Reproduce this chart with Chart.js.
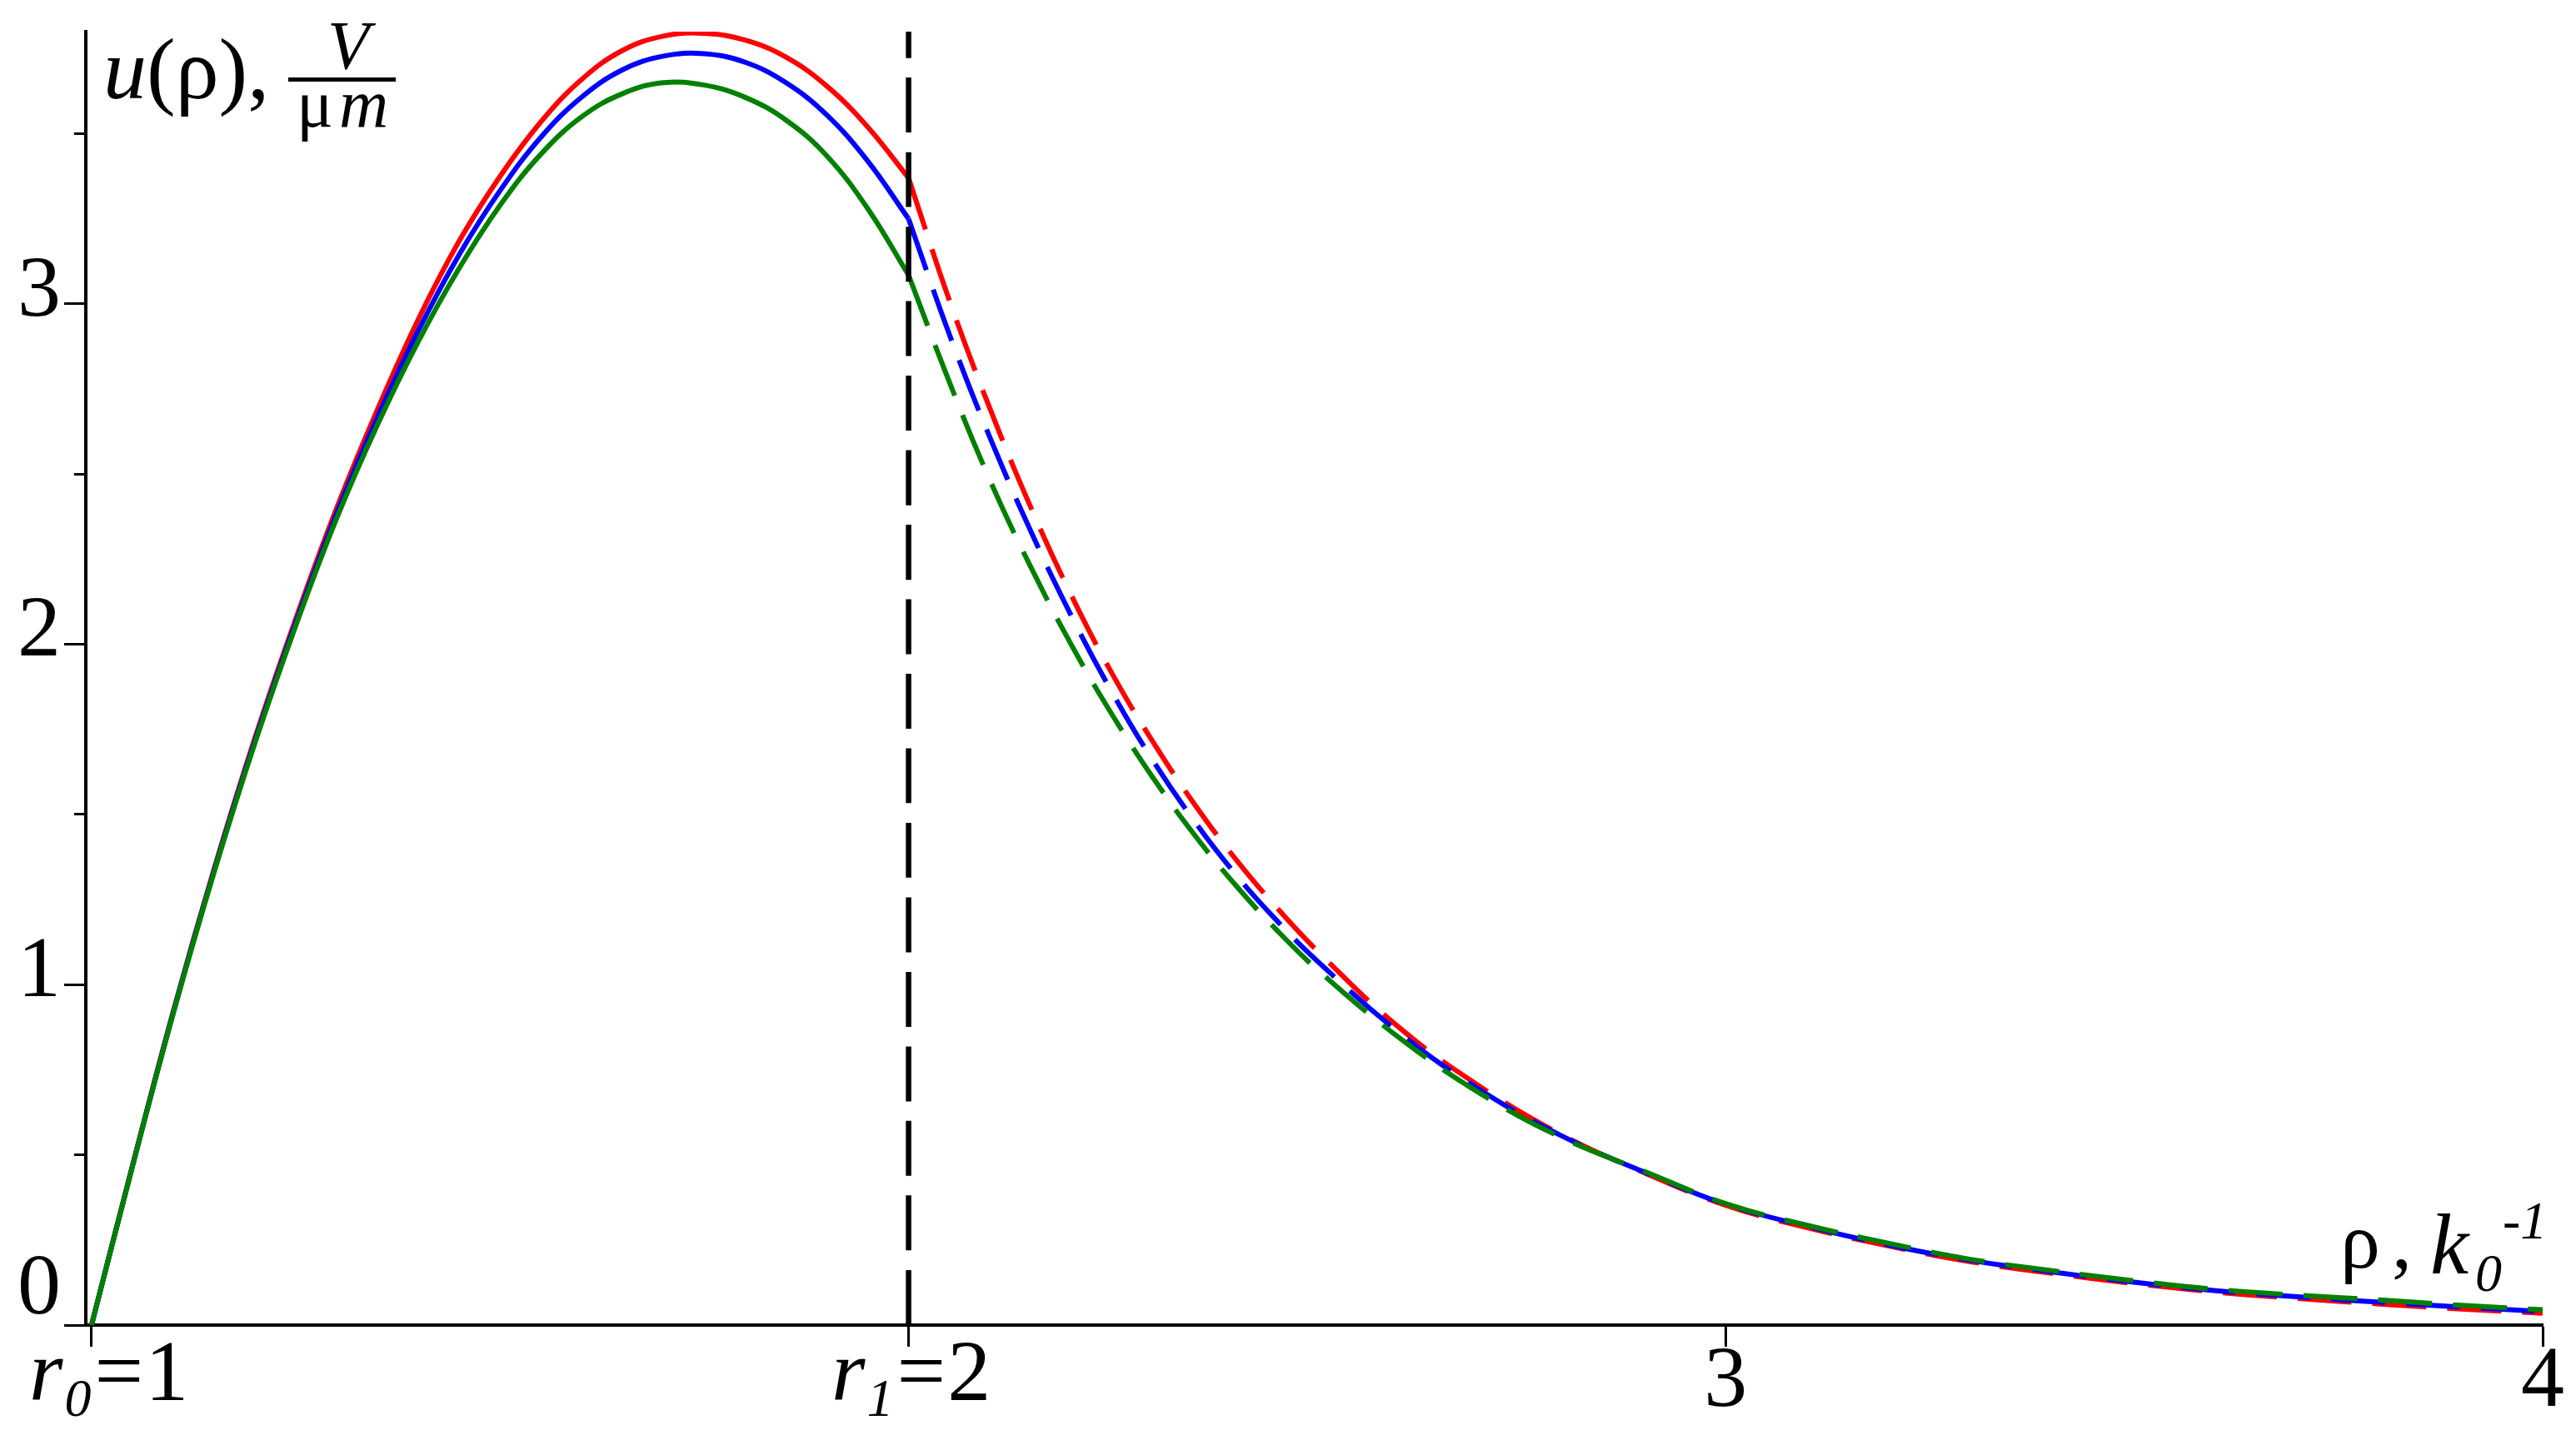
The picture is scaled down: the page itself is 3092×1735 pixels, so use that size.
<!DOCTYPE html>
<html>
<head>
<meta charset="utf-8">
<script src="https://cdn.jsdelivr.net/npm/chart.js@4.4.1/dist/chart.umd.min.js"></script>
<style>
html,body{margin:0;padding:0;background:#fff;overflow:hidden}
canvas{display:block}
</style>
</head>
<body>
<canvas id="c" width="3092" height="1735"></canvas>
<script>
// ---- data ----
const rhoSolid = [1.00,1.05,1.10,1.15,1.20,1.25,1.30,1.35,1.40,1.45,1.50,1.55,1.60,1.65,1.70,1.75,1.80,1.85,1.90,1.95,2.00];
const uRedSolid   = [0,0.468,0.922,1.34,1.725,2.075,2.40,2.69,2.955,3.185,3.375,3.535,3.66,3.745,3.787,3.795,3.775,3.725,3.64,3.52,3.37];
const uBlueSolid  = [0,0.466,0.918,1.335,1.717,2.065,2.385,2.668,2.922,3.145,3.333,3.49,3.608,3.688,3.728,3.735,3.71,3.65,3.555,3.42,3.25];
const uGreenSolid = [0,0.465,0.915,1.33,1.71,2.055,2.37,2.645,2.89,3.105,3.29,3.44,3.55,3.618,3.65,3.643,3.607,3.54,3.435,3.28,3.085];

const rhoDashed = [2.00,2.05,2.10,2.15,2.20,2.25,2.30,2.35,2.40,2.45,2.50,2.60,2.70,2.80,2.90,3.00,3.10,3.20,3.30,3.40,3.50,3.60,3.70,3.80,3.90,4.00];
const uRedDashed   = [3.37,3.01,2.69,2.40,2.14,1.91,1.71,1.53,1.37,1.228,1.10,0.875,0.70,0.558,0.448,0.352,0.286,0.232,0.186,0.152,0.122,0.097,0.078,0.062,0.047,0.035];
const uBlueDashed  = [3.25,2.91,2.605,2.33,2.08,1.855,1.655,1.48,1.325,1.19,1.07,0.86,0.69,0.555,0.45,0.355,0.29,0.235,0.19,0.156,0.126,0.101,0.083,0.067,0.053,0.040];
const uGreenDashed = [3.085,2.77,2.48,2.225,1.995,1.79,1.605,1.44,1.293,1.162,1.045,0.845,0.68,0.55,0.452,0.357,0.293,0.24,0.193,0.16,0.13,0.105,0.088,0.074,0.058,0.045];

const boundaryRho = 2;
const boundaryLineU = [0, 3.8];

const xTickValues = [1, 2, 3, 4];
const xTickLabels = ['', '', '3', '4'];
const rTickLabels = [{rho: 1, sub: '0', val: '1'}, {rho: 2, sub: '1', val: '2'}];
const yMajorTicks = [0, 1, 2, 3];
const yTickLabels = ['0', '1', '2', '3'];
const yMinorTicks = [0.5, 1.5, 2.5, 3.5];

// ---- chart ----
const serif = "'Liberation Serif', 'DejaVu Serif', serif";
const pts = (xs, ys) => xs.map((x, i) => ({x: x, y: ys[i]}));
const line = (data, color, dash, order, width) => ({
  data: data, borderColor: color, borderWidth: width || 6, borderDash: dash,
  pointRadius: 0, fill: false, tension: 0.4, cubicInterpolationMode: 'default',
  borderCapStyle: 'butt', borderJoinStyle: 'round', order: order,
  xAxisID: 'x', yAxisID: 'y'
});

const textPlugin = {
  id: 'mathTexts',
  afterDraw(chart) {
    const ctx = chart.ctx;
    const xs = chart.scales.x;
    ctx.save();
    ctx.fillStyle = '#000';
    ctx.textAlign = 'left';
    ctx.textBaseline = 'alphabetic';
    const it = s => 'italic ' + s + 'px ' + serif;
    const up = s => s + 'px ' + serif;
    const put = (txt, font, x, y) => { ctx.font = font; ctx.fillText(txt, x, y); return x + ctx.measureText(txt).width; };
    const wid = (txt, font) => { ctx.font = font; return ctx.measureText(txt).width; };

    // x tick labels r0=1, r1=2
    rTickLabels.forEach(l => {
      const w = wid('r', it(104)) + 2 + wid(l.sub, it(64)) + 4 + wid('=', up(104)) + wid(l.val, up(104));
      const px = xs.getPixelForValue(l.rho);
      let x = Math.max(35, px - w / 2 + 2);
      x = put('r', it(104), x, 1681) + 2;
      x = put(l.sub, it(64), x, 1700) + 4;
      x = put('=', up(104), x, 1681);
      put(l.val, up(104), x + 2, 1681);
    });

    // y axis title: u(ρ), V / μm
    let x = put('u', it(104), 124, 118);
    put('(ρ),', up(104), x, 118);
    ctx.fillRect(346, 93, 129, 5);
    ctx.textAlign = 'center';
    put('V', it(82), 418, 82);
    ctx.textAlign = 'left';
    put('μ', up(82), 356, 152);
    put('m', it(82), 407, 152);

    // x axis title: ρ, k0^-1
    put('ρ', up(96), 2809, 1522);
    put(',', up(96), 2871, 1522);
    put('k', it(104), 2917, 1529);
    put('0', it(64), 2971, 1550);
    put('-1', it(64), 3004, 1487);
    ctx.restore();
  }
};

function draw() {
  new Chart(document.getElementById('c'), {
    type: 'line',
    data: {
      datasets: [
        line(pts([boundaryRho, boundaryRho], boundaryLineU), '#000000', [66, 23.5], -1, 6.5),
        line(pts(rhoSolid, uGreenSolid), '#008000', [], 0),
        line(pts(rhoDashed, uGreenDashed), '#008000', [65, 25], 0),
        line(pts(rhoSolid, uBlueSolid), '#0000ff', [], 1),
        line(pts(rhoDashed, uBlueDashed), '#0000ff', [65, 25], 1),
        line(pts(rhoSolid, uRedSolid), '#ff0000', [], 2),
        line(pts(rhoDashed, uRedDashed), '#ff0000', [65, 25], 2)
      ]
    },
    options: {
      responsive: false,
      animation: false,
      devicePixelRatio: 1,
      events: [],
      layout: {padding: {left: 0, right: 40, top: 38, bottom: 0}},
      plugins: {legend: {display: false}, tooltip: {enabled: false}},
      scales: {
        x: {
          type: 'linear', position: 'bottom', min: 0.993, max: 4,
          afterBuildTicks: s => { s.ticks = xTickValues.map(v => ({value: v})); },
          afterFit: s => { s.height = 144; },
          grid: {drawOnChartArea: false, drawTicks: true, tickLength: 26, tickWidth: 3, tickColor: '#000'},
          border: {display: true, color: '#000', width: 4},
          ticks: {
            callback: (v, i) => xTickLabels[i] || '',
            font: {family: serif, size: 104, lineHeight: 1},
            color: '#000', padding: -8, maxRotation: 0, autoSkip: false
          }
        },
        y: {
          type: 'linear', position: 'left', weight: 1, min: 0, max: 3.8,
          afterBuildTicks: s => { s.ticks = yMajorTicks.map(v => ({value: v})); },
          afterFit: s => { s.width = 103; },
          grid: {drawOnChartArea: false, drawTicks: true, tickLength: 26, tickWidth: 3, tickColor: '#000'},
          border: {display: true, color: '#000', width: 4},
          ticks: {
            callback: (v, i) => [yTickLabels[i], ''],
            font: c => ({family: serif, size: 104, lineHeight: c.index === 0 ? 0.8 : 0.26}),
            color: '#000', padding: 4, autoSkip: false
          }
        },
        yMinor: {
          type: 'linear', position: 'left', weight: 0, min: 0, max: 3.8,
          afterBuildTicks: s => { s.ticks = yMinorTicks.map(v => ({value: v})); },
          afterFit: s => { s.width = 0; },
          grid: {drawOnChartArea: false, drawTicks: true, tickLength: 14, tickWidth: 3, tickColor: '#000'},
          border: {display: false},
          ticks: {callback: () => '', padding: 0, autoSkip: false, font: {size: 10}}
        }
      }
    },
    plugins: [textPlugin]
  });
}

const loads = ["104px 'Liberation Serif'", "italic 104px 'Liberation Serif'"].map(f => document.fonts.load(f, '0123ρμukmrV'));
let drawn = false;
const go = () => { if (!drawn) { drawn = true; draw(); } };
Promise.all(loads).then(go, go);
setTimeout(go, 1500);
</script>
</body>
</html>
